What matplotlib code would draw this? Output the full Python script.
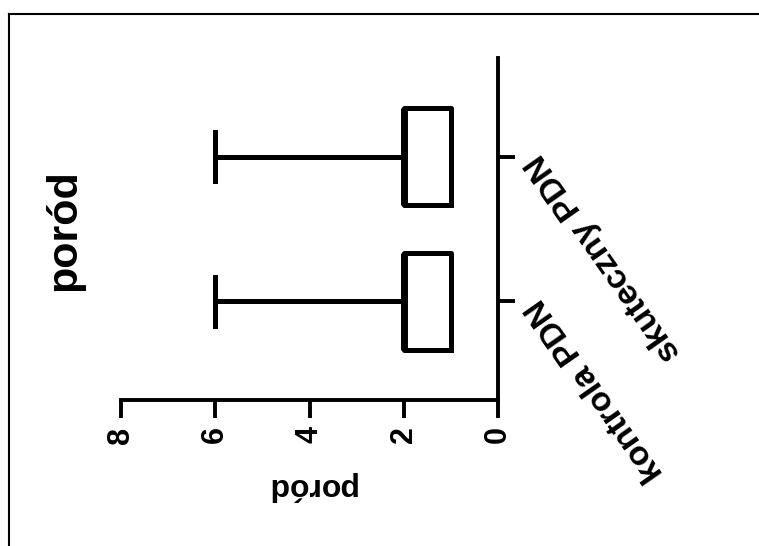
import matplotlib
matplotlib.use("Agg")
import matplotlib.pyplot as plt
from matplotlib.lines import Line2D

plt.rcParams['font.family'] = ['Liberation Sans', 'DejaVu Sans']
plt.rcParams['font.weight'] = 'bold'

"Data (five-number summaries read from the picture)"
groups = ['kontrola PDN', 'skuteczny PDN']
positions = [1, 2]
whis_low = [1, 1]
q1 = [1, 1]
median = [2, 2]
q3 = [2, 2]
whis_high = [6, 6]
value_ticks = [0, 2, 4, 6, 8]

stats = []
for i, g in enumerate(groups):
    stats.append(dict(label=g, whislo=whis_low[i], q1=q1[i], med=median[i],
                      q3=q3[i], whishi=whis_high[i], fliers=[]))

fig = plt.figure(figsize=(7.59, 5.46), dpi=100)
ax = fig.add_axes([121 / 759, 1 - 400 / 546, 377 / 759, 342 / 546])

lw = 3.6
ax.bxp(stats, positions=positions, widths=0.67, orientation='horizontal',
       showfliers=False,
       boxprops=dict(color='black', linewidth=lw),
       whiskerprops=dict(color='black', linewidth=lw),
       capprops=dict(color='black', linewidth=lw),
       medianprops=dict(color='black', linewidth=5.0, solid_capstyle='butt'))

"Axes limits"
ax.set_xlim(8, 0)
ax.set_ylim(0.32, 2.68)

"Spines"
for s in ['left', 'top']:
    ax.spines[s].set_visible(False)
for s in ['bottom', 'right']:
    ax.spines[s].set_linewidth(2.8)

"Value axis"
ax.set_xticks(value_ticks)
ax.set_xticklabels([str(v) for v in value_ticks], rotation=90, fontsize=22,
                   fontweight='bold', va='top', ha='center')
ax.tick_params(axis='x', direction='out', length=13, width=2.8, pad=6)

"Category axis on the right"
ax.yaxis.tick_right()
ax.set_yticks(positions)
ax.set_yticklabels(groups, fontsize=24.5, fontweight='bold', rotation=125,
                   rotation_mode='anchor', ha='right', va='center')
ax.tick_params(axis='y', direction='out', length=12.5, width=2.8, pad=13)

"Axis label and title"
ax.set_xlabel('poród', rotation=180, fontsize=23, fontweight='bold', va='center')
ax.xaxis.set_label_coords(0.504, -0.251)
fig.text(64 / 759, 1 - 230 / 546, 'poród', rotation=90, fontsize=31,
         fontweight='bold', ha='center', va='center')

"Frame lines"
fig.add_artist(Line2D([9 / 759, 1], [1 - 14 / 546, 1 - 14 / 546],
                      transform=fig.transFigure, color='black', linewidth=1.5))
fig.add_artist(Line2D([9 / 759, 9 / 759], [0, 1 - 14 / 546],
                      transform=fig.transFigure, color='black', linewidth=1.5))

plt.savefig('out.png', dpi=100)
